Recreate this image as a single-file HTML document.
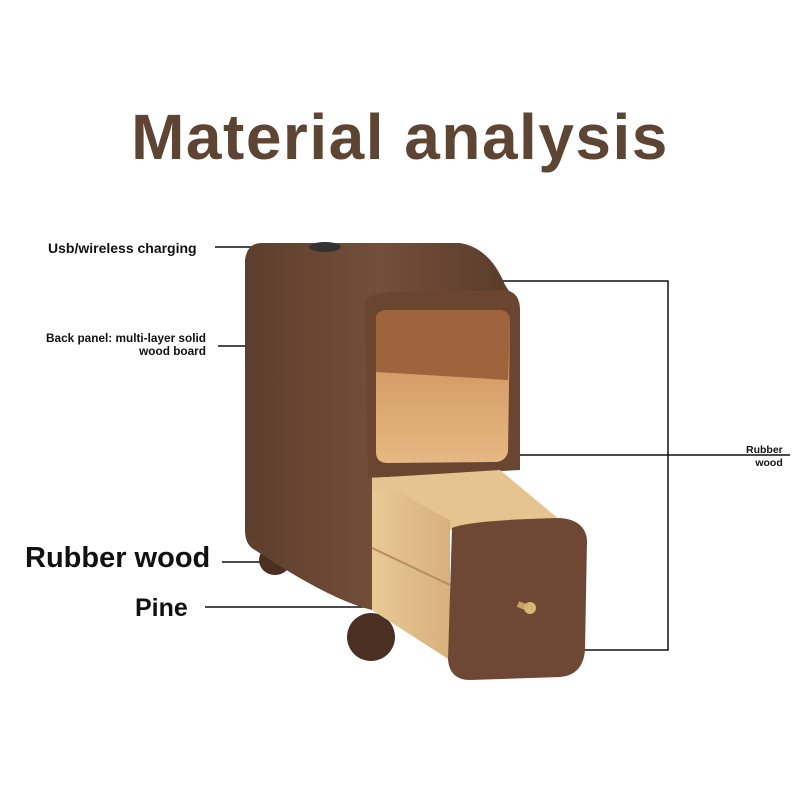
<!DOCTYPE html>
<html><head><style>
body{margin:0;width:800px;height:800px;background:#fff;overflow:hidden;position:relative;font-family:"Liberation Sans",sans-serif}
.t{position:absolute;color:#111;font-weight:bold;white-space:nowrap}
</style></head><body>
<div class="t" style="left:0;width:800px;text-align:center;top:100px;font-size:64px;color:#5e4433;letter-spacing:1.5px">Material analysis</div>
<svg width="800" height="800" style="position:absolute;left:0;top:0">
<defs>
<linearGradient id="side" x1="0" x2="1"><stop offset="0" stop-color="#5e3e2c"/><stop offset="0.5" stop-color="#734f3a"/><stop offset="1" stop-color="#5a3b2a"/></linearGradient>
<linearGradient id="shelf" x1="0" y1="0" x2="0" y2="1"><stop offset="0" stop-color="#c98a55"/><stop offset="1" stop-color="#e6b883"/></linearGradient>
<linearGradient id="pine" x1="0" x2="1"><stop offset="0" stop-color="#e8c995"/><stop offset="1" stop-color="#d8b07a"/></linearGradient>
</defs>
<g stroke="#111" stroke-width="1.5" fill="none">
<line x1="215" y1="247" x2="310" y2="247"/>
<line x1="218" y1="346" x2="245" y2="346"/>
<polyline points="490,281 668,281 668,650 580,650"/>
<line x1="515" y1="455" x2="790" y2="455"/>
<line x1="222" y1="562" x2="262" y2="562"/>
<line x1="205" y1="607" x2="375" y2="607"/>
</g>
<ellipse cx="275" cy="560" rx="16" ry="15" fill="#4a2f22"/>
<ellipse cx="371" cy="637" rx="24" ry="24" fill="#4a2f22"/>
<path d="M262,243 L460,243 Q490,248 505,285 L515,300 L515,470 L372,470 L372,610 Q330,600 255,550 Q245,545 245,530 L245,260 Q247,243 262,243 Z" fill="url(#side)"/>
<path d="M365,300 Q372,292 400,292 L505,290 Q520,292 520,310 L520,470 L368,478 Z" fill="#6a4631"/>
<path d="M376,318 Q376,310 390,310 L498,310 Q510,310 510,322 L508,452 Q505,462 495,462 L388,463 Q376,463 376,452 Z" fill="url(#shelf)"/>
<path d="M376,318 Q376,310 390,310 L498,310 Q510,310 510,322 L508,380 L376,372 Z" fill="#a0643d"/>
<path d="M372,478 L500,470 L560,520 L450,530 L450,660 L372,610 Z" fill="#e5c48f"/>
<path d="M372,492 L390,488 L450,520 L450,660 L372,610 Z" fill="url(#pine)"/>
<line x1="372" y1="548" x2="450" y2="585" stroke="#b98e5c" stroke-width="2"/>
<path d="M452,528 Q470,520 560,518 Q585,520 587,540 L585,650 Q583,675 560,677 L470,680 Q450,680 448,660 Z" fill="#6e4834"/>
<line x1="518" y1="604" x2="528" y2="608" stroke="#c9a35e" stroke-width="6"/>
<circle cx="530" cy="608" r="6" fill="#d8b672"/>
<ellipse cx="325" cy="247" rx="16" ry="5" fill="#333"/>
</svg>
<div class="t" style="left:48px;top:240px;font-size:14px">Usb/wireless charging</div>
<div class="t" style="left:46px;top:332px;font-size:11.8px;text-align:right;line-height:13px">Back panel: multi-layer solid<br>wood board</div>
<div class="t" style="left:746px;top:444px;font-size:10.5px;text-align:right;line-height:13px">Rubber<br>wood</div>
<div class="t" style="left:25px;top:542px;font-size:29px">Rubber wood</div>
<div class="t" style="left:135px;top:594px;font-size:25px">Pine</div>
</body></html>
